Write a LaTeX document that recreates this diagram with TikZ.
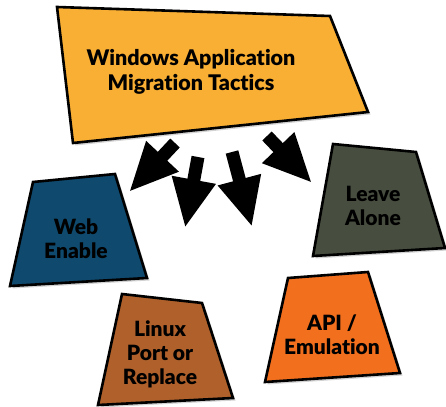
\documentclass[tikz,border=0pt]{standalone}
\usepackage{fontspec}
\setmainfont{Lato}[BoldFont={Lato Black},Ligatures=NoCommon]
\usepackage[dvipsnames]{xcolor}
\usetikzlibrary{arrows.meta,shadows}
\definecolor{tacticgold}{HTML}{F9AE34}
\definecolor{webblue}{HTML}{0F4A6E}
\definecolor{leaveolive}{HTML}{474E3F}
\definecolor{linuxbrown}{HTML}{B0612B}
\definecolor{apiorange}{HTML}{F26F1E}

\begin{document}
\begin{tikzpicture}[x=1pt,y=-1pt,
    box/.style={draw=black,line width=2.6pt,
      drop shadow={opacity=0.35,shadow xshift=2.5pt,shadow yshift=-2.5pt}},
    lbl/.style={font=\bfseries\fontsize{21}{24}\selectfont,align=center},
    push/.style={line width=13pt,-{Triangle[length=49pt,width=41pt]}}]
    \useasboundingbox (0,0) rectangle (446,406);
    % corners of the five boxes
    \coordinate (W1) at (57,7);   \coordinate (W2) at (330,16);
    \coordinate (W3) at (368,112);\coordinate (W4) at (73,143);
    \coordinate (B1) at (33,182); \coordinate (B2) at (115,174);
    \coordinate (B3) at (147,278);\coordinate (B4) at (10,286);
    \coordinate (L1) at (333,144);\coordinate (L2) at (416,152);
    \coordinate (L3) at (445,248);\coordinate (L4) at (313,256);
    \coordinate (X1) at (122,294);\coordinate (X2) at (202,303);
    \coordinate (X3) at (233,398);\coordinate (X4) at (98,405);
    \coordinate (E1) at (288,278);\coordinate (E2) at (368,272);
    \coordinate (E3) at (400,373);\coordinate (E4) at (265,382);
    \filldraw[box,fill=tacticgold] (W1) -- (W2) -- (W3) -- (W4) -- cycle;
    \filldraw[box,fill=webblue] (B1) -- (B2) -- (B3) -- (B4) -- cycle;
    \filldraw[box,fill=leaveolive] (L1) -- (L2) -- (L3) -- (L4) -- cycle;
    \filldraw[box,fill=linuxbrown] (X1) -- (X2) -- (X3) -- (X4) -- cycle;
    \filldraw[box,fill=apiorange] (E1) -- (E2) -- (E3) -- (E4) -- cycle;
    \node[lbl,font=\bfseries\fontsize{21.5}{25}\selectfont] (tactics) at (191,72) {Windows Application\\Migration Tactics};
    \node[lbl] (web) at (76,239) {Web\\Enable};
    \node[lbl] (leave) at (373,206) {Leave\\Alone};
    \node[lbl] (linux) at (160,354) {Linux\\Port or\\Replace};
    \node[lbl] (api) at (332,335) {API /\\Emulation};
    % block arrows
    \coordinate (t1) at (175,143); \coordinate (h1) at (129,192);
    \coordinate (t2) at (198,157); \coordinate (h2) at (185,228);
    \coordinate (t3) at (232,152); \coordinate (h3) at (252,227);
    \coordinate (t4) at (267,136); \coordinate (h4) at (312,183);
    \foreach \i in {1,...,4}
      \draw[push] (t\i) -- (h\i);
\end{tikzpicture}
\end{document}
